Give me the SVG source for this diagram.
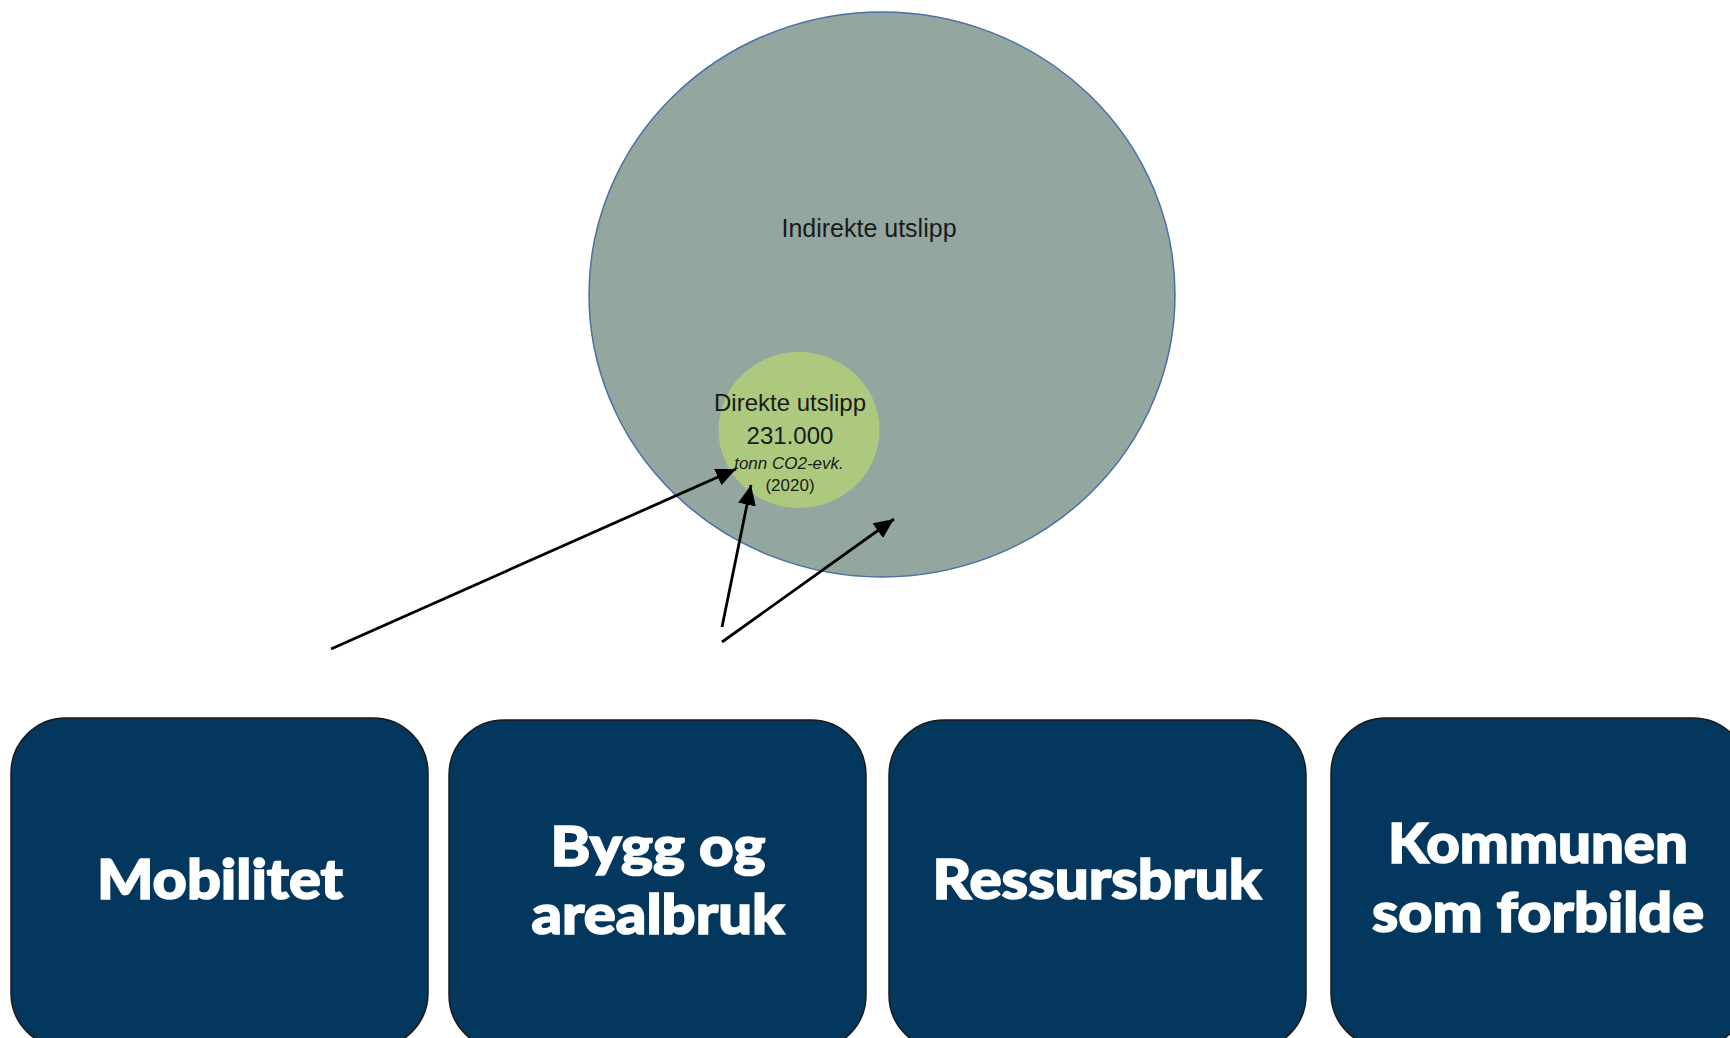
<svg xmlns="http://www.w3.org/2000/svg" width="1730" height="1038" viewBox="0 0 1730 1038">
<style>
.box{fill:#03375d;stroke:#1a1a1a;stroke-width:1.5}
.bt{font-family:Lato,"Open Sans","Liberation Sans",sans-serif;font-weight:900;font-size:56px;fill:#ffffff;stroke:#ffffff;stroke-width:1.6;text-anchor:middle}
.ct{font-family:"Liberation Sans",Arial,sans-serif;fill:#1a1a1a;text-anchor:middle}
.arrow{stroke:#000;stroke-width:2.8;fill:none;marker-end:url(#ah)}
</style>
<defs>
<marker id="ah" markerUnits="userSpaceOnUse" markerWidth="22" markerHeight="18" refX="20" refY="9" orient="auto">
<path d="M0,0 L20,9 L0,18 Z" fill="#000"/>
</marker>
</defs>
<rect width="1730" height="1038" fill="#ffffff"/>
<g id="indirekte">
<ellipse cx="882" cy="294.5" rx="293" ry="282.5" fill="#93a6a0" stroke="#4a6fa5" stroke-width="1.5"/>
<text class="ct" x="869" y="237" font-size="25">Indirekte utslipp</text>
</g>
<g id="direkte">
<ellipse cx="799" cy="430" rx="80.5" ry="78" fill="#adc97e"/>
<text class="ct" x="790" y="411" font-size="24">Direkte utslipp</text>
<text class="ct" x="790" y="444" font-size="24">231.000</text>
<text class="ct" x="789" y="469" font-size="17" font-style="italic">tonn CO2-evk.</text>
<text class="ct" x="790" y="491" font-size="17">(2020)</text>
</g>
<g id="connectors">
<line class="arrow" x1="331" y1="649" x2="736" y2="469"/>
<line class="arrow" x1="722" y1="627" x2="751" y2="485"/>
<line class="arrow" x1="722" y1="642" x2="894" y2="519"/>
</g>
<g id="mobilitet">
<rect class="box" x="11" y="718" width="417" height="330" rx="55"/>
<text class="bt" x="220" y="899" textLength="246" lengthAdjust="spacingAndGlyphs">Mobilitet</text>
</g>
<g id="bygg">
<rect class="box" x="449" y="720" width="417" height="330" rx="55"/>
<text class="bt" x="658" y="866" textLength="215" lengthAdjust="spacingAndGlyphs">Bygg og</text>
<text class="bt" x="658" y="934" textLength="253" lengthAdjust="spacingAndGlyphs">arealbruk</text>
</g>
<g id="ressursbruk">
<rect class="box" x="889" y="720" width="417" height="330" rx="55"/>
<text class="bt" x="1097" y="899" textLength="329" lengthAdjust="spacingAndGlyphs">Ressursbruk</text>
</g>
<g id="kommunen">
<rect class="box" x="1331" y="718" width="417" height="330" rx="55"/>
<text class="bt" x="1538" y="863" textLength="300" lengthAdjust="spacingAndGlyphs">Kommunen</text>
<text class="bt" x="1538" y="932" textLength="332" lengthAdjust="spacingAndGlyphs">som forbilde</text>
</g>
</svg>
